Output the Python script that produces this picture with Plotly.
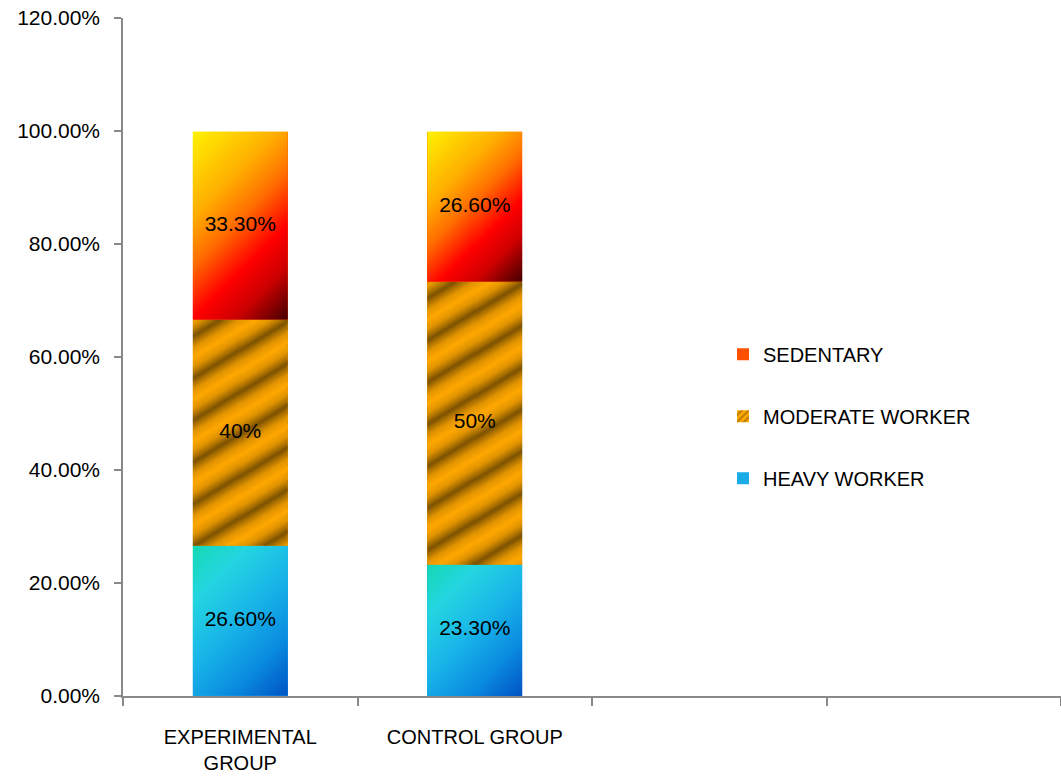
import numpy as np
import plotly.graph_objects as go

# ---- data -------------------------------------------------------------
groups = ["EXPERIMENTAL<br>GROUP", "CONTROL GROUP"]
series_names = ["HEAVY WORKER", "MODERATE WORKER", "SEDENTARY"]
heavy = [26.6, 23.3]
moderate = [40, 50]
sedentary = [33.3, 26.6]
y_tick_values = [0, 20, 40, 60, 80, 100, 120]
y_tick_text = [f"{v:.2f}%" for v in y_tick_values]

# ---- layout geometry ----------------------------------------------------
W, H = 1061, 783
MARGIN = dict(l=123, r=0, t=18, b=87)
X_RANGE = [-0.5, 3.5]
Y_RANGE = [0, 120]
BAR_W = 0.405
PX_X = (W - MARGIN["l"] - MARGIN["r"]) / (X_RANGE[1] - X_RANGE[0])
PX_Y = (H - MARGIN["t"] - MARGIN["b"]) / (Y_RANGE[1] - Y_RANGE[0])

FONT = "Liberation Sans, Arial, sans-serif"
AXIS_GRAY = "#898989"

# fill styles
SED_SCALE = [[0.0, "#FFF200"], [0.3, "#FFAE00"], [0.47, "#FF6E00"],
             [0.66, "#FF0000"], [0.8, "#D00000"], [1.0, "#400000"]]
HEAVY_SCALE = [[0.0, "#14D8B4"], [0.22, "#24D6E0"], [0.5, "#18B4E8"],
               [0.75, "#0A8CE0"], [1.0, "#0052C4"]]
MOD_SCALE = [[0.0, "#FFA800"], [0.45, "#E29400"], [0.8, "#A46C00"],
             [1.0, "#7A5000"]]
STRIPE_PERIOD = 42.0   # vertical stripe period in px
STRIPE_SLOPE = 0.6
STRIPE_PHASE = 5.0


def segment_grid(xc, bottom, top, cell=2.0):
    """Cell edges of a segment plus pixel offsets from its top-left corner."""
    x0, x1 = xc - BAR_W / 2, xc + BAR_W / 2
    nx = max(2, int(round((x1 - x0) * PX_X / cell)))
    ny = max(2, int(round((top - bottom) * PX_Y / cell)))
    xe = np.linspace(x0, x1, nx + 1)
    ye = np.linspace(bottom, top, ny + 1)
    xm = (xe[:-1] + xe[1:]) / 2
    ym = (ye[:-1] + ye[1:]) / 2
    X, Y = np.meshgrid(xm, ym)
    dx = (X - x0) * PX_X
    dy = (top - Y) * PX_Y
    return xe, ye, dx, dy, (x1 - x0) * PX_X, (top - bottom) * PX_Y


def diagonal(dx, dy, w, h):
    return (dx + dy) / (w + h)


def stripes(dx, dy, w, h):
    frac = ((dy + STRIPE_SLOPE * dx + STRIPE_PHASE) / STRIPE_PERIOD) % 1.0
    return 1.0 - np.abs(2.0 * frac - 1.0)


def label(v):
    return f"{v:.0f}%" if float(v).is_integer() else f"{v:.2f}%"


fig = go.Figure()

# legend / base bars
base_colors = ["#1AACE6", "#D08800", "#FF5000"]
ranks = [3, 2, 1]
for name, vals, col, rk in zip(series_names, [heavy, moderate, sedentary],
                               base_colors, ranks):
    marker = dict(color=col, line=dict(width=0))
    if name == "MODERATE WORKER":
        marker["pattern"] = dict(shape="/", fgcolor="#7E5200", bgcolor="#FFA800",
                                 size=6, solidity=0.45)
    fig.add_trace(go.Bar(x=list(range(len(groups))), y=vals, width=BAR_W,
                         name=name, legendgroup=name, legendrank=rk,
                         marker=marker, hoverinfo="skip"))

# gradient-filled segments drawn on an overlaid axis pair
styles = [(HEAVY_SCALE, diagonal), (MOD_SCALE, stripes), (SED_SCALE, diagonal)]
for gi in range(len(groups)):
    bottom = 0.0
    for vals, (scale, field) in zip([heavy, moderate, sedentary], styles):
        top = bottom + vals[gi]
        xe, ye, dx, dy, w, h = segment_grid(gi, bottom, top)
        z = field(dx, dy, w, h)
        fig.add_trace(go.Heatmap(x=xe, y=ye, z=z, colorscale=scale, zmin=0, zmax=1,
                                 zsmooth="best", showscale=False, hoverinfo="skip",
                                 xaxis="x2", yaxis="y2"))
        bottom = top

# value labels at segment centres
lx, ly, lt = [], [], []
for gi in range(len(groups)):
    bottom = 0.0
    for vals in [heavy, moderate, sedentary]:
        v = vals[gi]
        lx.append(gi)
        ly.append(bottom + v / 2)
        lt.append(label(v))
        bottom += v
fig.add_trace(go.Scatter(x=lx, y=ly, text=lt, mode="text", showlegend=False,
                         textfont=dict(family=FONT, size=21, color="#000000"),
                         hoverinfo="skip", xaxis="x2", yaxis="y2"))

fig.update_layout(
    width=W, height=H, autosize=False,
    margin=MARGIN,
    paper_bgcolor="white", plot_bgcolor="white",
    barmode="stack",
    font=dict(family=FONT, size=20, color="#000000"),
    xaxis=dict(range=X_RANGE, tickmode="array", tickvals=list(range(len(groups))),
               ticktext=groups, ticks="", showgrid=False, zeroline=False,
               showline=True, linecolor=AXIS_GRAY, linewidth=1.5,
               tickfont=dict(family=FONT, size=20), ticklabelstandoff=22,
               minor=dict(tickmode="array", tickvals=[-0.5, 0.5, 1.5, 2.5, 3.5],
                          ticks="outside", ticklen=8, tickwidth=1.5,
                          tickcolor=AXIS_GRAY)),
    yaxis=dict(range=Y_RANGE, tickmode="array", tickvals=y_tick_values,
               ticktext=y_tick_text, ticks="outside", ticklen=7,
               tickwidth=1.5, tickcolor=AXIS_GRAY, showgrid=False, zeroline=False,
               showline=True, linecolor=AXIS_GRAY, linewidth=1.5,
               tickfont=dict(family=FONT, size=21), ticklabelstandoff=10),
    xaxis2=dict(range=X_RANGE, overlaying="x", visible=False),
    yaxis2=dict(range=Y_RANGE, overlaying="y", visible=False),
    legend=dict(x=(723 - MARGIN["l"]) / (W - MARGIN["l"]), y=0.533,
                xanchor="left", yanchor="top", traceorder="grouped",
                tracegroupgap=33, font=dict(family=FONT, size=20),
                bgcolor="rgba(0,0,0,0)"),
    showlegend=True,
)

fig.write_html("out.html")
